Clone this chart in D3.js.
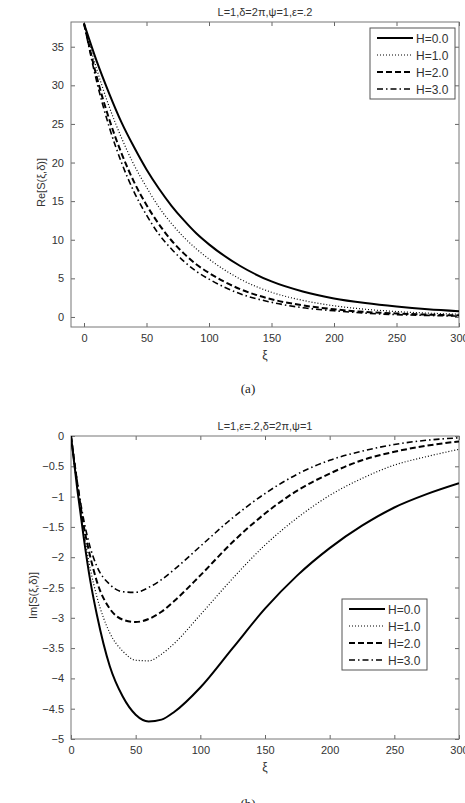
<!DOCTYPE html>
<html>
<head>
<meta charset="utf-8">
<script src="https://cdn.jsdelivr.net/npm/d3@7"></script>
<style>
  body { margin: 0; background: #fff; }
  svg { display: block; }
  .tick text { font-family: "Liberation Sans", Arial, sans-serif; font-size: 11px; fill: #333; }
</style>
</head>
<body>
<svg id="svg" width="465" height="803"></svg>
<script>
"use strict";

// series names
const series = ["H=0.0", "H=1.0", "H=2.0", "H=3.0"];

// (a) real part
const xiRe = [0, 10, 20, 30, 40, 50, 60, 70, 80, 90, 100, 125, 150, 175, 200, 225, 250, 275, 300];
const reH0 = [38, 33.2, 29.0, 25.2, 22.0, 19.1, 16.6, 14.4, 12.5, 10.8, 9.4, 6.6, 4.6, 3.3, 2.4, 1.8, 1.35, 1.0, 0.75];
const reH1 = [38, 32.2, 27.3, 23.2, 19.7, 16.8, 14.2, 12.1, 10.3, 8.8, 7.5, 4.9, 3.2, 2.15, 1.45, 1.0, 0.7, 0.5, 0.35];
const reH2 = [38, 31.2, 25.7, 21.2, 17.5, 14.5, 12.0, 9.9, 8.2, 6.8, 5.7, 3.6, 2.3, 1.5, 1.0, 0.65, 0.45, 0.3, 0.2];
const reH3 = [38, 30.6, 24.7, 20.0, 16.2, 13.2, 10.7, 8.8, 7.2, 5.9, 4.9, 3.0, 1.9, 1.2, 0.8, 0.5, 0.3, 0.2, 0.1];

// (b) imaginary part
const xiIm = [0, 5, 10, 15, 20, 30, 40, 50, 60, 70, 80, 100, 125, 150, 175, 200, 225, 250, 275, 300];
const imH0 = [0, -0.9, -1.7, -2.4, -2.95, -3.8, -4.3, -4.6, -4.71, -4.68, -4.55, -4.15, -3.5, -2.85, -2.3, -1.85, -1.48, -1.18, -0.96, -0.78];
const imH1 = [0, -0.85, -1.6, -2.2, -2.65, -3.25, -3.55, -3.7, -3.71, -3.6, -3.42, -2.95, -2.35, -1.8, -1.35, -0.98, -0.7, -0.48, -0.34, -0.22];
const imH2 = [0, -0.8, -1.5, -2.0, -2.4, -2.85, -3.03, -3.07, -3.02, -2.9, -2.72, -2.3, -1.75, -1.28, -0.9, -0.62, -0.4, -0.26, -0.16, -0.09];
const imH3 = [0, -0.78, -1.4, -1.85, -2.15, -2.45, -2.57, -2.58, -2.5, -2.37, -2.2, -1.82, -1.35, -0.95, -0.63, -0.4, -0.25, -0.14, -0.07, -0.03];

// tick values
const xTicks = [0, 50, 100, 150, 200, 250, 300];
const reTicks = [0, 5, 10, 15, 20, 25, 30, 35];
const imTicks = [0, -0.5, -1, -1.5, -2, -2.5, -3, -3.5, -4, -4.5, -5];

// line styles per series
const styles = [
	{ dash: null, width: 2 },
	{ dash: "1,2", width: 1.2 },
	{ dash: "6,3", width: 2 },
	{ dash: "6,3,1.5,3", width: 1.6 },
];

const svg = d3.select("#svg");

function drawPanel(p) {
	const g = svg.append("g");
	const x = d3.scaleLinear().domain(p.xDomain).range([p.left, p.right]);
	const y = d3.scaleLinear().domain(p.yDomain).range([p.bottom, p.top]);

	// clip curves to axes box
	g.append("clipPath")
		.attr("id", p.id + "clip")
		.append("rect")
		.attr("x", p.left)
		.attr("y", p.top)
		.attr("width", p.right - p.left)
		.attr("height", p.bottom - p.top);

	// axes, ticks inward on all four sides
	const fmt = (d) => d3.format("")(d);
	g.append("g")
		.attr("transform", `translate(0,${p.bottom})`)
		.call(d3.axisBottom(x).tickValues(xTicks).tickSizeInner(-4).tickSizeOuter(0).tickPadding(7).tickFormat(fmt));
	g.append("g")
		.attr("transform", `translate(0,${p.top})`)
		.call(d3.axisTop(x).tickValues(xTicks).tickSizeInner(-4).tickSizeOuter(0).tickFormat(""));
	g.append("g")
		.attr("transform", `translate(${p.left},0)`)
		.call(d3.axisLeft(y).tickValues(p.yTicks).tickSizeInner(-4).tickSizeOuter(0).tickPadding(7).tickFormat(fmt));
	g.append("g")
		.attr("transform", `translate(${p.right},0)`)
		.call(d3.axisRight(y).tickValues(p.yTicks).tickSizeInner(-4).tickSizeOuter(0).tickFormat(""));
	g.selectAll(".domain").remove();
	g.selectAll(".tick line").attr("stroke", "#666");

	g.append("rect")
		.attr("x", p.left)
		.attr("y", p.top)
		.attr("width", p.right - p.left)
		.attr("height", p.bottom - p.top)
		.attr("fill", "none")
		.attr("stroke", "#777")
		.attr("stroke-width", 1);

	// curves
	const line = d3.line()
		.x((d) => x(d[0]))
		.y((d) => y(d[1]))
		.curve(d3.curveMonotoneX);

	p.values.forEach((vals, i) => {
		g.append("path")
			.datum(p.xs.map((xv, j) => [xv, vals[j]]))
			.attr("clip-path", `url(#${p.id}clip)`)
			.attr("d", line)
			.attr("fill", "none")
			.attr("stroke", "#000")
			.attr("stroke-width", styles[i].width)
			.attr("stroke-dasharray", styles[i].dash);
	});

	// title
	g.append("text")
		.attr("x", (p.left + p.right) / 2)
		.attr("y", p.top - 6)
		.attr("text-anchor", "middle")
		.attr("font-family", "Liberation Sans, Arial, sans-serif")
		.attr("font-size", 11)
		.attr("fill", "#333")
		.text(p.title);

	// x label
	g.append("text")
		.attr("x", (p.left + p.right) / 2)
		.attr("y", p.bottom + 32)
		.attr("text-anchor", "middle")
		.attr("font-family", "Liberation Sans, Arial, sans-serif")
		.attr("font-size", 12)
		.attr("fill", "#333")
		.text("ξ");

	// y label
	g.append("text")
		.attr("transform", `translate(${p.ylabelX},${(p.top + p.bottom) / 2 + 8}) rotate(-90)`)
		.attr("text-anchor", "middle")
		.attr("font-family", "Liberation Sans, Arial, sans-serif")
		.attr("font-size", 11)
		.attr("fill", "#333")
		.text(p.ylabel);

	// legend
	const lg = g.append("g").attr("transform", `translate(${p.legend[0]},${p.legend[1]})`);
	lg.append("rect")
		.attr("width", 85)
		.attr("height", 71)
		.attr("fill", "#fff")
		.attr("stroke", "#555");
	series.forEach((s, i) => {
		const ly = 10 + i * 17;
		lg.append("line")
			.attr("x1", 7)
			.attr("x2", 43)
			.attr("y1", ly)
			.attr("y2", ly)
			.attr("stroke", "#000")
			.attr("stroke-width", styles[i].width)
			.attr("stroke-dasharray", styles[i].dash);
		lg.append("text")
			.attr("x", 46)
			.attr("y", ly + 4.5)
			.attr("font-family", "Liberation Sans, Arial, sans-serif")
			.attr("font-size", 12)
			.attr("fill", "#333")
			.text(s);
	});

	// panel caption
	svg.append("text")
		.attr("x", 248)
		.attr("y", p.caption)
		.attr("text-anchor", "middle")
		.attr("font-family", "Liberation Serif, Times New Roman, serif")
		.attr("font-size", 13)
		.attr("fill", "#222")
		.text(p.captionText);
}

drawPanel({
	id: "a",
	left: 71, right: 459, top: 22, bottom: 327,
	xDomain: [-10.4, 300], yDomain: [-1.3, 38.2],
	yTicks: reTicks,
	xs: xiRe, values: [reH0, reH1, reH2, reH3],
	title: "L=1,δ=2π,ψ=1,ε=.2",
	ylabel: "Re[S(ξ,δ)]", ylabelX: 45,
	legend: [370, 28],
	caption: 393, captionText: "(a)",
});

drawPanel({
	id: "b",
	left: 71, right: 459, top: 436, bottom: 739,
	xDomain: [0, 300], yDomain: [-5, 0],
	yTicks: imTicks,
	xs: xiIm, values: [imH0, imH1, imH2, imH3],
	title: "L=1,ε=.2,δ=2π,ψ=1",
	ylabel: "Im[S(ξ,δ)]", ylabelX: 37,
	legend: [342, 599],
	caption: 808, captionText: "(b)",
});
</script>
</body>
</html>
